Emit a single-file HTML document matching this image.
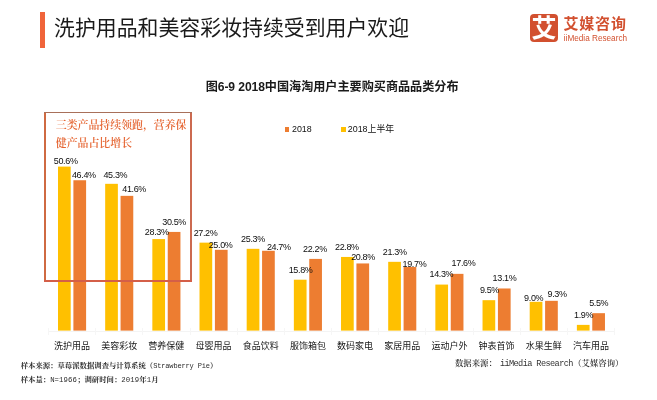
<!DOCTYPE html>
<html lang="zh-CN">
<head>
<meta charset="utf-8">
<title>洗护用品和美容彩妆持续受到用户欢迎</title>
<style>
html,body{margin:0;padding:0;background:#fff;}
body{width:657px;height:400px;position:relative;overflow:hidden;font-family:"Liberation Sans","Noto Sans CJK SC",sans-serif;color:#222;}
.abs{position:absolute;white-space:nowrap;}
.bar{position:absolute;}
.y{background:#FFC000;}
.o{background:#ED7D31;}
.dl{position:absolute;white-space:nowrap;font-size:9px;letter-spacing:-0.35px;line-height:10px;height:10px;text-align:center;color:#0d0d0d;transform:translateX(-50%);}
.cat{position:absolute;white-space:nowrap;font-size:9px;line-height:12px;height:12px;color:#151515;transform:translateX(-50%);font-family:"Liberation Sans","Noto Sans CJK SC",sans-serif;}
.foot{position:absolute;white-space:nowrap;font-family:"Liberation Serif","Noto Serif CJK SC",serif;font-weight:bold;font-size:7.36px;line-height:10px;color:#2b2b2b;}
.foot .m1{font-family:"Liberation Mono",monospace;font-weight:normal;font-size:7px;letter-spacing:-0.15px;}
.foot .m2{font-family:"Liberation Mono",monospace;font-weight:normal;font-size:7.3px;letter-spacing:0.12px;}
.src{position:absolute;white-space:nowrap;font-family:"Liberation Serif","Noto Serif CJK SC",serif;font-weight:600;font-size:8.4px;line-height:12px;color:#333;}
.src.m{font-family:"Liberation Mono",monospace;font-weight:normal;font-size:8.6px;letter-spacing:-0.6px;}
</style>
</head>
<body>
<div class="abs" style="left:40px;top:12px;width:5px;height:36px;background:#F0643A;"></div>
<div class="abs" id="title" style="left:54px;top:14.3px;font-size:20.9px;line-height:28px;color:#1a1a1a;font-family:'Liberation Sans','Noto Sans CJK SC',sans-serif;">洗护用品和美容彩妆持续受到用户欢迎</div>
<div class="abs" id="logo" style="left:530px;top:14.3px;width:28px;height:28px;border-radius:4px;background:#D2502F;color:#fff;font-weight:bold;font-size:25px;line-height:29.5px;text-align:center;font-family:'Liberation Sans','Noto Sans CJK SC',sans-serif;">艾</div>
<div class="abs" id="brand" style="left:563.5px;top:14px;font-size:15px;line-height:20px;font-weight:bold;letter-spacing:0.8px;color:#D2502F;">艾媒咨询</div>
<div class="abs" id="brand2" style="left:563.8px;top:33px;font-size:8.2px;line-height:12px;color:#D2502F;">iiMedia Research</div>
<div class="abs" id="ctitle" style="left:205.7px;top:78.7px;font-size:12.12px;line-height:16px;font-weight:bold;color:#1a1a1a;">图<span style="letter-spacing:-0.1px">6-9 2018</span>中国海淘用户主要购买商品品类分布</div>
<div class="abs" style="left:284.5px;top:127px;width:4.7px;height:4.7px;background:#ED7D31;"></div>
<div class="abs" id="lg1" style="left:292px;top:123px;font-size:8.9px;line-height:12px;color:#111;">2018</div>
<div class="abs" style="left:341px;top:127px;width:4.7px;height:4.7px;background:#FFC000;"></div>
<div class="abs" id="lg2" style="left:347.8px;top:123px;font-size:8.9px;line-height:12px;color:#111;">2018上半年</div>
<div class="abs" style="left:48px;top:331px;width:567px;height:1px;background:#f4f4f4;"></div>
<div class="abs" style="left:48.0px;top:328px;width:1px;height:7px;background:#f6f6f6;"></div><div class="abs" style="left:95.2px;top:328px;width:1px;height:7px;background:#f6f6f6;"></div><div class="abs" style="left:142.3px;top:328px;width:1px;height:7px;background:#f6f6f6;"></div><div class="abs" style="left:189.5px;top:328px;width:1px;height:7px;background:#f6f6f6;"></div><div class="abs" style="left:236.7px;top:328px;width:1px;height:7px;background:#f6f6f6;"></div><div class="abs" style="left:283.9px;top:328px;width:1px;height:7px;background:#f6f6f6;"></div><div class="abs" style="left:331.0px;top:328px;width:1px;height:7px;background:#f6f6f6;"></div><div class="abs" style="left:378.2px;top:328px;width:1px;height:7px;background:#f6f6f6;"></div><div class="abs" style="left:425.4px;top:328px;width:1px;height:7px;background:#f6f6f6;"></div><div class="abs" style="left:472.5px;top:328px;width:1px;height:7px;background:#f6f6f6;"></div><div class="abs" style="left:519.7px;top:328px;width:1px;height:7px;background:#f6f6f6;"></div><div class="abs" style="left:566.9px;top:328px;width:1px;height:7px;background:#f6f6f6;"></div><div class="abs" style="left:614.0px;top:328px;width:1px;height:7px;background:#f6f6f6;"></div>
<svg class="abs" style="left:0;top:0;" width="657" height="400" viewBox="0 0 657 400">
<rect x="58.00" y="166.60" width="12.7" height="164.00" fill="#FFC000"/><rect x="73.40" y="180.25" width="12.7" height="150.35" fill="#ED7D31"/>
<rect x="105.17" y="183.83" width="12.7" height="146.78" fill="#FFC000"/><rect x="120.57" y="195.85" width="12.7" height="134.75" fill="#ED7D31"/>
<rect x="152.34" y="239.08" width="12.7" height="91.53" fill="#FFC000"/><rect x="167.74" y="231.93" width="12.7" height="98.67" fill="#ED7D31"/>
<rect x="199.51" y="242.65" width="12.7" height="87.95" fill="#FFC000"/><rect x="214.91" y="249.80" width="12.7" height="80.80" fill="#ED7D31"/>
<rect x="246.68" y="248.83" width="12.7" height="81.78" fill="#FFC000"/><rect x="262.08" y="250.78" width="12.7" height="79.82" fill="#ED7D31"/>
<rect x="293.85" y="279.70" width="12.7" height="50.90" fill="#FFC000"/><rect x="309.25" y="258.90" width="12.7" height="71.70" fill="#ED7D31"/>
<rect x="341.02" y="256.95" width="12.7" height="73.65" fill="#FFC000"/><rect x="356.42" y="263.45" width="12.7" height="67.15" fill="#ED7D31"/>
<rect x="388.19" y="261.83" width="12.7" height="68.78" fill="#FFC000"/><rect x="403.59" y="267.03" width="12.7" height="63.57" fill="#ED7D31"/>
<rect x="435.36" y="284.58" width="12.7" height="46.02" fill="#FFC000"/><rect x="450.76" y="273.85" width="12.7" height="56.75" fill="#ED7D31"/>
<rect x="482.53" y="300.18" width="12.7" height="30.43" fill="#FFC000"/><rect x="497.93" y="288.48" width="12.7" height="42.12" fill="#ED7D31"/>
<rect x="529.70" y="301.80" width="12.7" height="28.80" fill="#FFC000"/><rect x="545.10" y="300.83" width="12.7" height="29.78" fill="#ED7D31"/>
<rect x="576.87" y="324.88" width="12.7" height="5.72" fill="#FFC000"/><rect x="592.27" y="313.18" width="12.7" height="17.43" fill="#ED7D31"/>
</svg>
<div class="abs" style="left:44px;top:112px;width:2px;height:169.7px;background:#CF6A42;"></div><div class="abs" style="left:190px;top:112px;width:1.8px;height:169.7px;background:#CC6A50;"></div><div class="abs" style="left:44px;top:112px;width:147.8px;height:1.1px;background:#A8705A;"></div><div class="abs" style="left:44px;top:279.8px;width:147.8px;height:1.9px;background:#D45F48;"></div>
<div class="abs" id="ann" style="left:55.8px;top:115.5px;font-family:'Liberation Serif','Noto Serif CJK SC',serif;font-weight:600;font-size:10.9px;line-height:18.95px;color:#E5632F;">三类产品持续领跑，营养保<br>健产品占比增长</div>
<div class="dl" style="left:65.70px;top:156.30px;">50.6%</div><div class="dl" style="left:83.85px;top:169.90px;">46.4%</div>
<div class="dl" style="left:115.35px;top:170.15px;">45.3%</div><div class="dl" style="left:134.15px;top:183.55px;">41.6%</div>
<div class="dl" style="left:156.75px;top:226.60px;">28.3%</div><div class="dl" style="left:174.15px;top:216.50px;">30.5%</div>
<div class="dl" style="left:205.55px;top:227.65px;">27.2%</div><div class="dl" style="left:220.60px;top:239.75px;">25.0%</div>
<div class="dl" style="left:253.00px;top:233.50px;">25.3%</div><div class="dl" style="left:278.77px;top:242.38px;">24.7%</div>
<div class="dl" style="left:300.60px;top:264.50px;">15.8%</div><div class="dl" style="left:314.95px;top:243.60px;">22.2%</div>
<div class="dl" style="left:346.90px;top:241.60px;">22.8%</div><div class="dl" style="left:363.05px;top:252.25px;">20.8%</div>
<div class="dl" style="left:394.70px;top:246.60px;">21.3%</div><div class="dl" style="left:414.45px;top:258.70px;">19.7%</div>
<div class="dl" style="left:441.40px;top:269.45px;">14.3%</div><div class="dl" style="left:463.50px;top:258.35px;">17.6%</div>
<div class="dl" style="left:489.48px;top:285.00px;">9.5%</div><div class="dl" style="left:504.50px;top:273.15px;">13.1%</div>
<div class="dl" style="left:533.65px;top:292.80px;">9.0%</div><div class="dl" style="left:557.05px;top:288.60px;">9.3%</div>
<div class="dl" style="left:583.60px;top:309.50px;">1.9%</div><div class="dl" style="left:598.70px;top:297.65px;">5.5%</div>
<div class="cat" style="left:72.05px;top:339.5px;">洗护用品</div>
<div class="cat" style="left:119.22px;top:339.5px;">美容彩妆</div>
<div class="cat" style="left:166.39px;top:339.5px;">营养保健</div>
<div class="cat" style="left:213.56px;top:339.5px;">母婴用品</div>
<div class="cat" style="left:260.73px;top:339.5px;">食品饮料</div>
<div class="cat" style="left:307.90px;top:339.5px;">服饰箱包</div>
<div class="cat" style="left:355.07px;top:339.5px;">数码家电</div>
<div class="cat" style="left:402.24px;top:339.5px;">家居用品</div>
<div class="cat" style="left:449.41px;top:339.5px;">运动户外</div>
<div class="cat" style="left:496.58px;top:339.5px;">钟表首饰</div>
<div class="cat" style="left:543.75px;top:339.5px;">水果生鲜</div>
<div class="cat" style="left:590.92px;top:339.5px;">汽车用品</div>
<div class="foot" id="f1" style="left:20.7px;top:361.3px;">样本来源：草莓派数据调查与计算系统（<span class="m1">Strawberry Pie</span>）</div>
<div class="foot" id="f2" style="left:20.7px;top:375.1px;">样本量：<span class="m2">N=1966</span>；调研时间：<span class="m2">2019</span>年<span class="m2">1</span>月</div>
<div class="src" id="src" style="left:455px;top:357.8px;">数据来源：</div><div class="src m" id="src2" style="left:499.9px;top:357.8px;">iiMedia Research</div><div class="src" id="src3" style="left:573.2px;top:357.8px;">（艾媒咨询）</div>
</body>
</html>
